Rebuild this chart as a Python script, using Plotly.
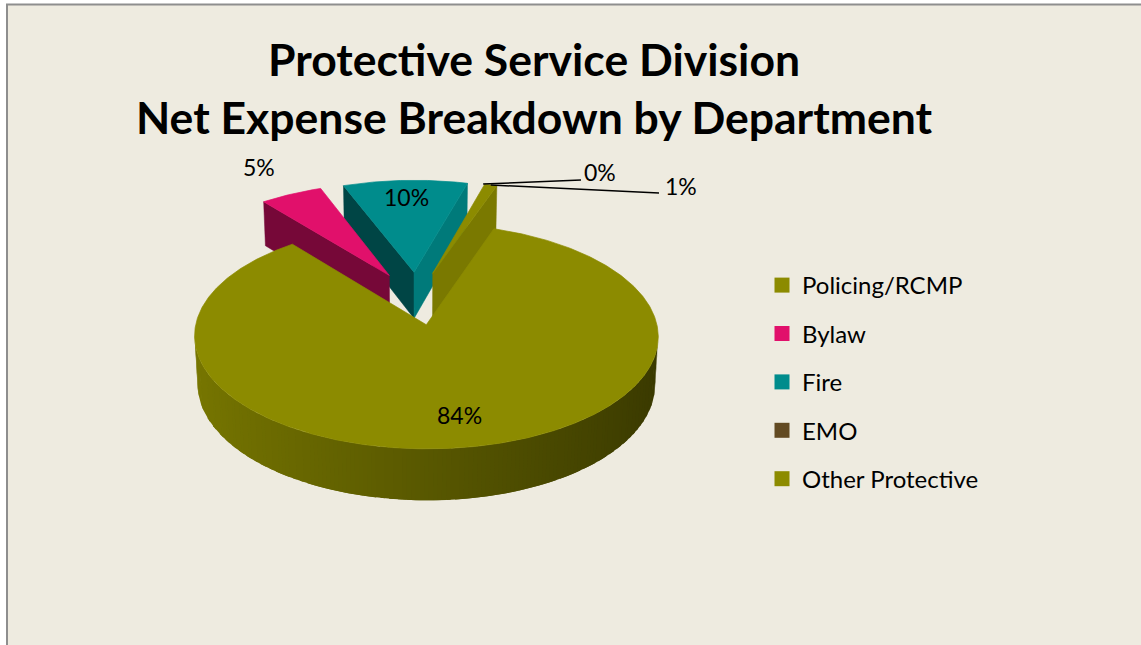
import numpy as np
import plotly.graph_objects as go

# ---- data ---------------------------------------------------------------
departments = ["Policing/RCMP", "Bylaw", "Fire", "EMO", "Other Protective"]
shares = [84, 5, 10, 0, 1]          # share of net expense, percent
colors = ["#8C8B00", "#E1106B", "#008C8C", "#624A22", "#8C8B00"]
title_lines = ["Protective Service Division", "Net Expense Breakdown by Department"]

# ---- canvas / camera for the tilted, exploded 3-D pie -------------------
W, H = 1141, 645
START_DEG = 19.0        # first slice starts here (clockwise from 12 o'clock)
EXPLODE = 0.25          # radial offset of every slice (unit radius)
THICK = 0.24            # disc thickness (unit radius)
ELEV = np.radians(28.1)
CAM_D = 8.82
FOCAL = 1984.0
CX, CY = 416.5, 298.0
SN, CS = np.sin(ELEV), np.cos(ELEV)
CAM = np.array([0.0, CAM_D * SN, CAM_D * CS])

FONT = "Lato"


def project(X, Y, Z):
    X, Y, Z = np.asarray(X, float), np.asarray(Y, float), np.asarray(Z, float)
    depth = CAM_D - Y * SN - Z * CS
    sx = CX + FOCAL * X / depth
    sy = CY - FOCAL * (Y * CS - Z * SN) / depth
    return sx, sy, depth


def hex_rgb(h):
    h = h.lstrip("#")
    return np.array([int(h[i:i + 2], 16) for i in (0, 2, 4)], float)


def shade(hexcol, k):
    r, g, b = np.clip(hex_rgb(hexcol) * k, 0, 255).round().astype(int)
    return f"rgb({r},{g},{b})"


def visible(point, normal):
    return float(np.dot(CAM - point, normal)) > 0


total = float(sum(shares))
bounds = START_DEG + 360.0 * np.concatenate([[0], np.cumsum(shares)]) / total

fig = go.Figure()


def add_poly(xs, ys, fill, lw=0.0):
    fig.add_trace(go.Scatter(
        x=list(xs) + [xs[0]], y=list(ys) + [ys[0]], mode="lines",
        fill="toself", fillcolor=fill,
        line=dict(color=fill, width=lw),
        hoverinfo="skip", showlegend=False))


slices = []
for i, v in enumerate(shares):
    a0, a1 = bounds[i], bounds[i + 1]
    if v <= 0:
        slices.append(None)
        continue
    mid = np.radians((a0 + a1) / 2)
    ox, oz = EXPLODE * np.sin(mid), -EXPLODE * np.cos(mid)
    slices.append(dict(i=i, a0=a0, a1=a1, ox=ox, oz=oz,
                       depth=project(ox, 0, oz)[2]))

order = sorted([s for s in slices if s], key=lambda s: -s["depth"])

for s in order:
    i, a0, a1, ox, oz = s["i"], s["a0"], s["a1"], s["ox"], s["oz"]
    base = colors[i]

    # curved outer wall, drawn left to right in runs of equal colour;
    # each run overlaps the next by one step so no seams show
    n = max(2, int(np.ceil(a1 - a0)))
    phis = np.radians(np.linspace(a0, a1, n + 1))
    runs, cur, cur_col = [], [], None
    for j in range(n):
        pm = (phis[j] + phis[j + 1]) / 2
        nrm = np.array([np.sin(pm), 0.0, -np.cos(pm)])
        pt = np.array([ox + np.sin(pm), -THICK / 2, oz - np.cos(pm)])
        if not visible(pt, nrm):
            if cur:
                runs.append((cur, cur_col, False))
            cur, cur_col = [], None
            continue
        col = shade(base, 0.63 - 0.22 * np.sin(pm))
        if col != cur_col and cur:
            runs.append((cur, cur_col, True))
            cur = [j]
        else:
            cur.append(j)
        cur_col = col
    if cur:
        runs.append((cur, cur_col, False))
    for idx, col, joined in runs:
        stop = idx[-1] + 2 + (1 if joined else 0)
        ang = phis[idx[0]: stop]
        X = ox + np.sin(ang)
        Z = oz - np.cos(ang)
        tx, ty, _ = project(X, np.zeros_like(X), Z)
        bx, by, _ = project(X, -THICK * np.ones_like(X), Z)
        add_poly(np.r_[tx, bx[::-1]], np.r_[ty, by[::-1]], col)

    # flat cut faces
    for ang, side in ((a0, -1), (a1, 1)):
        r = np.radians(ang)
        nphi = r + side * np.pi / 2
        nrm = np.array([np.sin(nphi), 0.0, -np.cos(nphi)])
        ex, ez = ox + np.sin(r), oz - np.cos(r)
        ctr = np.array([(ox + ex) / 2, -THICK / 2, (oz + ez) / 2])
        if not visible(ctr, nrm):
            continue
        px, py, _ = project([ox, ex, ex, ox], [0, 0, -THICK, -THICK], [oz, ez, ez, oz])
        add_poly(px, py, shade(base, 0.68 + 0.2 * nrm[0]), 0.5)

    # top face
    ang = np.radians(np.linspace(a0, a1, max(3, int((a1 - a0) * 2))))
    X = np.r_[ox, ox + np.sin(ang)]
    Z = np.r_[oz, oz - np.cos(ang)]
    px, py, _ = project(X, np.zeros_like(X), Z)
    add_poly(px, py, base, 0.7)

# ---- percentage labels ------------------------------------------------
label_radius = [0.76, 1.37, 0.80, None, None]     # along slice bisector
callout_xy = {3: (600, 172), 4: (681, 186)}       # labels with leader lines
callout_end = {3: (581, 180), 4: (659, 193)}
label_font = dict(family=FONT, size=23, color="#000000")

for i, v in enumerate(shares):
    a0, a1 = bounds[i], bounds[i + 1]
    mid = np.radians((a0 + a1) / 2)
    ox, oz = EXPLODE * np.sin(mid), -EXPLODE * np.cos(mid)
    text = f"{v}%"
    if label_radius[i] is not None:
        rr = label_radius[i]
        lx, ly, _ = project(ox + rr * np.sin(mid), 0, oz - rr * np.cos(mid))
        fig.add_annotation(x=float(lx), y=float(ly), text=text, showarrow=False,
                           font=label_font, xanchor="center", yanchor="middle")
    else:
        sx, sy, _ = project(ox + np.sin(mid), 0, oz - np.cos(mid))
        ex, ey = callout_end[i]
        fig.add_trace(go.Scatter(x=[float(sx), ex], y=[float(sy), ey], mode="lines",
                                 line=dict(color="#000000", width=1.5),
                                 hoverinfo="skip", showlegend=False))
        tx, ty = callout_xy[i]
        fig.add_annotation(x=tx, y=ty, text=text, showarrow=False,
                           font=label_font, xanchor="center", yanchor="middle")

# ---- legend entries -----------------------------------------------------
for name, col in zip(departments, colors):
    fig.add_trace(go.Scatter(x=[None], y=[None], mode="markers", name=name,
                             legendgroup=name,
                             marker=dict(symbol="square", size=15, color=col,
                                         line=dict(width=0))))

# ---- titles ------------------------------------------------------------
for txt, ty in zip(title_lines, (58, 116)):
    fig.add_annotation(x=534, y=ty, text=txt, showarrow=False,
                       xanchor="center", yanchor="middle",
                       font=dict(family=FONT, size=44.5, color="#000000", weight="bold"))

# chart panel with grey frame on the left and top
fig.add_shape(type="rect", x0=7, y0=4.5, x1=W + 20, y1=H + 20, xref="x", yref="y",
              fillcolor="#EEEBE0", line=dict(color="#8E8E8E", width=2), layer="below")

fig.update_layout(
    width=W, height=H,
    margin=dict(l=0, r=0, t=0, b=0),
    paper_bgcolor="#FFFFFF", plot_bgcolor="#FFFFFF",
    xaxis=dict(range=[0, W], visible=False, fixedrange=True),
    yaxis=dict(range=[H, 0], visible=False, fixedrange=True),
    showlegend=True,
    legend=dict(x=762 / W, y=1 - 263 / H, xanchor="left", yanchor="top",
                font=dict(family=FONT, size=24, color="#000000"),
                bgcolor="rgba(0,0,0,0)", tracegroupgap=14.2, itemsizing="trace"),
)

fig.write_html("out.html")
